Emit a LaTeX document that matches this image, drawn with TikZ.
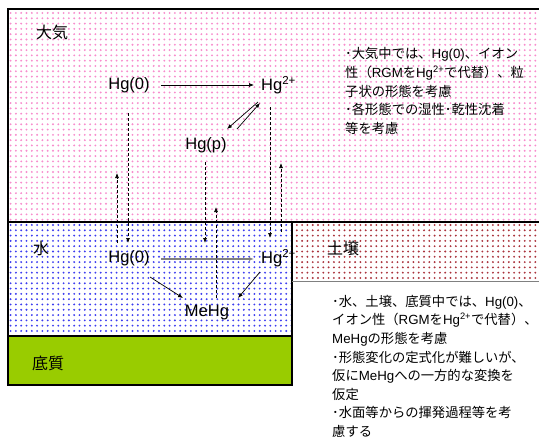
\documentclass[tikz,border=0pt]{standalone}
\usepackage{fontspec}
\setmainfont{Liberation Sans}
\newfontfamily\jp{Noto Sans CJK JP}
\usetikzlibrary{arrows.meta,patterns.meta}
\definecolor{atmdot}{RGB}{248,140,205}
\definecolor{watdot}{RGB}{60,60,240}
\definecolor{soildot}{RGB}{170,50,60}
\definecolor{sedgreen}{RGB}{153,204,0}
\newcommand{\la}[1]{{\fontspec{Liberation Sans}#1}}
\newcommand{\hgtwo}{Hg\textsuperscript{2+}}
\tikzset{
  zone/.style={draw=black,line width=1.2pt},
  species/.style={font=\fontsize{16.5}{18}\selectfont,inner sep=0pt},
  zonelabel/.style={font=\jp\fontsize{16}{18}\selectfont,inner sep=0pt},
  note/.style={font=\jp\fontsize{13.3}{18.6}\selectfont,align=left,inner sep=0pt,anchor=north west},
  conv/.style={line width=0.7pt,-{Latex[length=5pt,width=4pt]}},
  transport/.style={line width=0.7pt,dash pattern=on 3pt off 2pt,-{Latex[length=5pt,width=4pt]}},
  dotfill/.style={pattern={Dots[distance=5.3pt,radius=1.05pt]},pattern color=#1},
}
\begin{document}
\begin{tikzpicture}[x=1pt,y=-1pt]
\useasboundingbox (0,0) rectangle (539,437);
\clip (0,0) rectangle (539,437);
\fill[white] (0,0) rectangle (539,437);
% zones
\fill[white] (8,9) rectangle (560,222);
\fill[dotfill=atmdot] (8,9) rectangle (560,222);
\fill[white] (8,222) rectangle (292,336);
\fill[dotfill=watdot] (8,222) rectangle (292,336);
\fill[white] (292,222) rectangle (560,281);
\fill[dotfill=soildot] (292,222) rectangle (560,281);
\fill[sedgreen] (8,336) rectangle (292,385);
% zone labels
\node[zonelabel] (air) at (52,32) {大気};
\node[zonelabel] (water) at (41,248) {水};
\node[zonelabel] (sed) at (48,363) {底質};
\node[zonelabel] (soil) at (343,248) {土壌};
% species
\node[species] (a0) at (129,85) {Hg(0)};
\node[species,anchor=west] (a2) at (261,85) {\hgtwo};
\node[species] (ap) at (206,145) {Hg(p)};
\node[species] (w0) at (129,258) {Hg(0)};
\node[species,anchor=west] (w2) at (261,258) {\hgtwo};
\node[species] (me) at (207,313) {MeHg};
% borders
\draw[zone] (560,9) -- (8,9) -- (8,385) -- (292,385) -- (292,222);
\draw[zone] (8,222) -- (560,222);
\draw[zone] (8,336) -- (292,336);
\draw[gray,line width=1pt] (292,281) -- (560,281);
% conversions in the air
\coordinate (aa) at (161,85); \coordinate (ab) at (254,85);
\draw[conv] (aa) -- (ab);
\coordinate (d1s) at (258,102); \coordinate (d1e) at (227,129);
\coordinate (d2s) at (237,129); \coordinate (d2e) at (260,103);
\draw[conv] (d1s) -- (d1e);
\draw[conv] (d2s) -- (d2e);
% conversions in water
\coordinate (wa) at (161,259); \coordinate (wb) at (254,259);
\draw[conv,gray,line width=1.1pt] (wa) -- (wb);
\coordinate (m1s) at (150,277); \coordinate (m1e) at (183,298);
\coordinate (m2s) at (260,272); \coordinate (m2e) at (238,298);
\draw[conv] (m1s) -- (m1e);
\draw[conv] (m2s) -- (m2e);
% vertical transport
\coordinate (t1s) at (128,113); \coordinate (t1e) at (128,243);
\coordinate (t2s) at (117,243); \coordinate (t2e) at (117,173);
\coordinate (t3s) at (205,162); \coordinate (t3e) at (205,243);
\coordinate (t4s) at (216,298); \coordinate (t4e) at (216,207);
\coordinate (t5s) at (270,107); \coordinate (t5e) at (270,238);
\coordinate (t6s) at (281,232); \coordinate (t6e) at (281,163);
\draw[transport] (t1s) -- (t1e);
\draw[transport] (t2s) -- (t2e);
\draw[transport] (t3s) -- (t3e);
\draw[transport] (t4s) -- (t4e);
\draw[transport] (t5s) -- (t5e);
\draw[transport] (t6s) -- (t6e);
% notes
\node[note] (n1) at (345,47.5) {･大気中では、\la{Hg(0)}、イオン\\
性（\la{RGM}を\la{\hgtwo}で代替）、粒\\
子状の形態を考慮\\
･各形態での湿性･乾性沈着\\
等を考慮};
\node[note] (n2) at (332,295) {･水、土壌、底質中では、\la{Hg(0)}、\\
イオン性（\la{RGM}を\la{\hgtwo}で代替）、\\
\la{MeHg}の形態を考慮\\
･形態変化の定式化が難しいが、\\
仮に\la{MeHg}への一方的な変換を\\
仮定\\
･水面等からの揮発過程等を考\\
慮する};
\end{tikzpicture}
\end{document}
